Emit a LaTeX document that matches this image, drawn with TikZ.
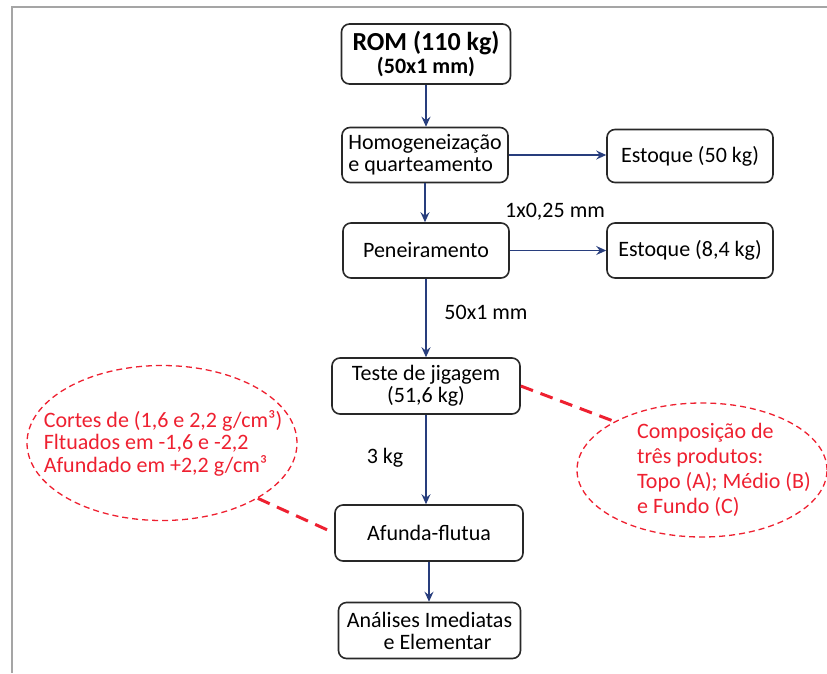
\documentclass[tikz,border=0pt]{standalone}
\usepackage{fontspec}
\setmainfont{Carlito}
\usetikzlibrary{arrows.meta,shapes.geometric}
\definecolor{navy}{RGB}{40,62,125}
\definecolor{redc}{RGB}{238,32,48}
\definecolor{framec}{RGB}{165,165,165}
\definecolor{boxc}{RGB}{40,40,40}
\tikzset{
  procbox/.style={draw=boxc, line width=1.6pt, rounded corners=8pt, align=center, inner sep=0pt, font=\fontsize{22}{22}\selectfont},
  flowarrow/.style={draw=navy, line width=1.4pt, -{Stealth[length=10pt,width=9pt,inset=3.5pt]}},
  plainlabel/.style={inner sep=0pt, font=\fontsize{22}{22}\selectfont},
  noteellipse/.style={ellipse, draw=redc, line width=1.3pt, dash pattern=on 6pt off 4pt, inner sep=0pt},
  notetext/.style={inner sep=0pt, align=left, text=redc, font=\fontsize{22}{24}\selectfont},
  notelink/.style={draw=redc, line width=3pt, dash pattern=on 13pt off 8pt}
}
\begin{document}
\begin{tikzpicture}[x=1pt,y=-1pt]
\useasboundingbox (0,0) rectangle (827,673);
% frame
\coordinate (fbl) at (12,673);
\coordinate (ftl) at (12,7);
\coordinate (ftr) at (827,7);
\draw[framec, line width=2.2pt] (fbl) -- (ftl) -- (ftr);

% process boxes
\node[procbox, minimum width=169pt, minimum height=60pt] (rom) at (426,54)
  {{\fontsize{26}{28}\selectfont\bfseries ROM (110 kg)}\\[1pt]{\bfseries (50x1 mm)}};
\node[procbox, minimum width=166pt, minimum height=55pt, align=left] (homog) at (425,155)
  {Homogeneização\\e quarteamento};
\node[procbox, minimum width=166pt, minimum height=53pt] (est50) at (690,156)
  {Estoque (50 kg)};
\node[procbox, minimum width=166pt, minimum height=55pt] (pene) at (426,250.5)
  {Peneiramento};
\node[procbox, minimum width=166pt, minimum height=55pt] (est84) at (690,250.5)
  {Estoque (8,4 kg)};
\node[procbox, minimum width=188pt, minimum height=56pt] (teste) at (426,386)
  {Teste de jigagem\\(51,6 kg)};
\node[procbox, minimum width=188pt, minimum height=56pt] (afunda) at (429,533)
  {Afunda-flutua};
\node[procbox, minimum width=182pt, minimum height=56pt] (analises) at (429.5,630.5)
  {Análises Imediatas\\\hspace*{16pt}e Elementar};

% labels
\node[plainlabel] (l1) at (555,212) {1x0,25 mm};
\node[plainlabel] (l2) at (486,312) {50x1 mm};
\node[plainlabel] (l3) at (385,458) {3 kg};

% arrows
\draw[flowarrow] (rom.south) -- (rom.south |- homog.north);
\draw[flowarrow] (homog.south) -- (homog.south |- pene.north);
\draw[flowarrow] (pene.south) -- (pene.south |- teste.north);
\draw[flowarrow] (teste.south) -- (teste.south |- afunda.north);
\draw[flowarrow] (afunda.south) -- (afunda.south |- analises.north);
\draw[flowarrow] (homog.east) -- (homog.east -| est50.west);
\draw[flowarrow] (pene.east) -- (pene.east -| est84.west);

% notes
\node[noteellipse, minimum width=270pt, minimum height=155pt] (ellL) at (162,443) {};
\node[notetext, font=\fontsize{22}{22.5}\selectfont] (txtL) at (163,443)
  {Cortes de (1,6 e 2,2 g/cm³)\\Fltuados em -1,6 e -2,2\\Afundado em +2,2 g/cm³};
\node[noteellipse, minimum width=250pt, minimum height=134pt] (ellR) at (702,470) {};
\node[notetext, font=\fontsize{22}{25}\selectfont] (txtR) at (724,470)
  {Composição de\\três produtos:\\Topo (A); Médio (B)\\e Fundo (C)};

\draw[notelink] (teste.east) -- (ellR.151);
\draw[notelink] (ellL.-30) -- (afunda.west);
\end{tikzpicture}
\end{document}
